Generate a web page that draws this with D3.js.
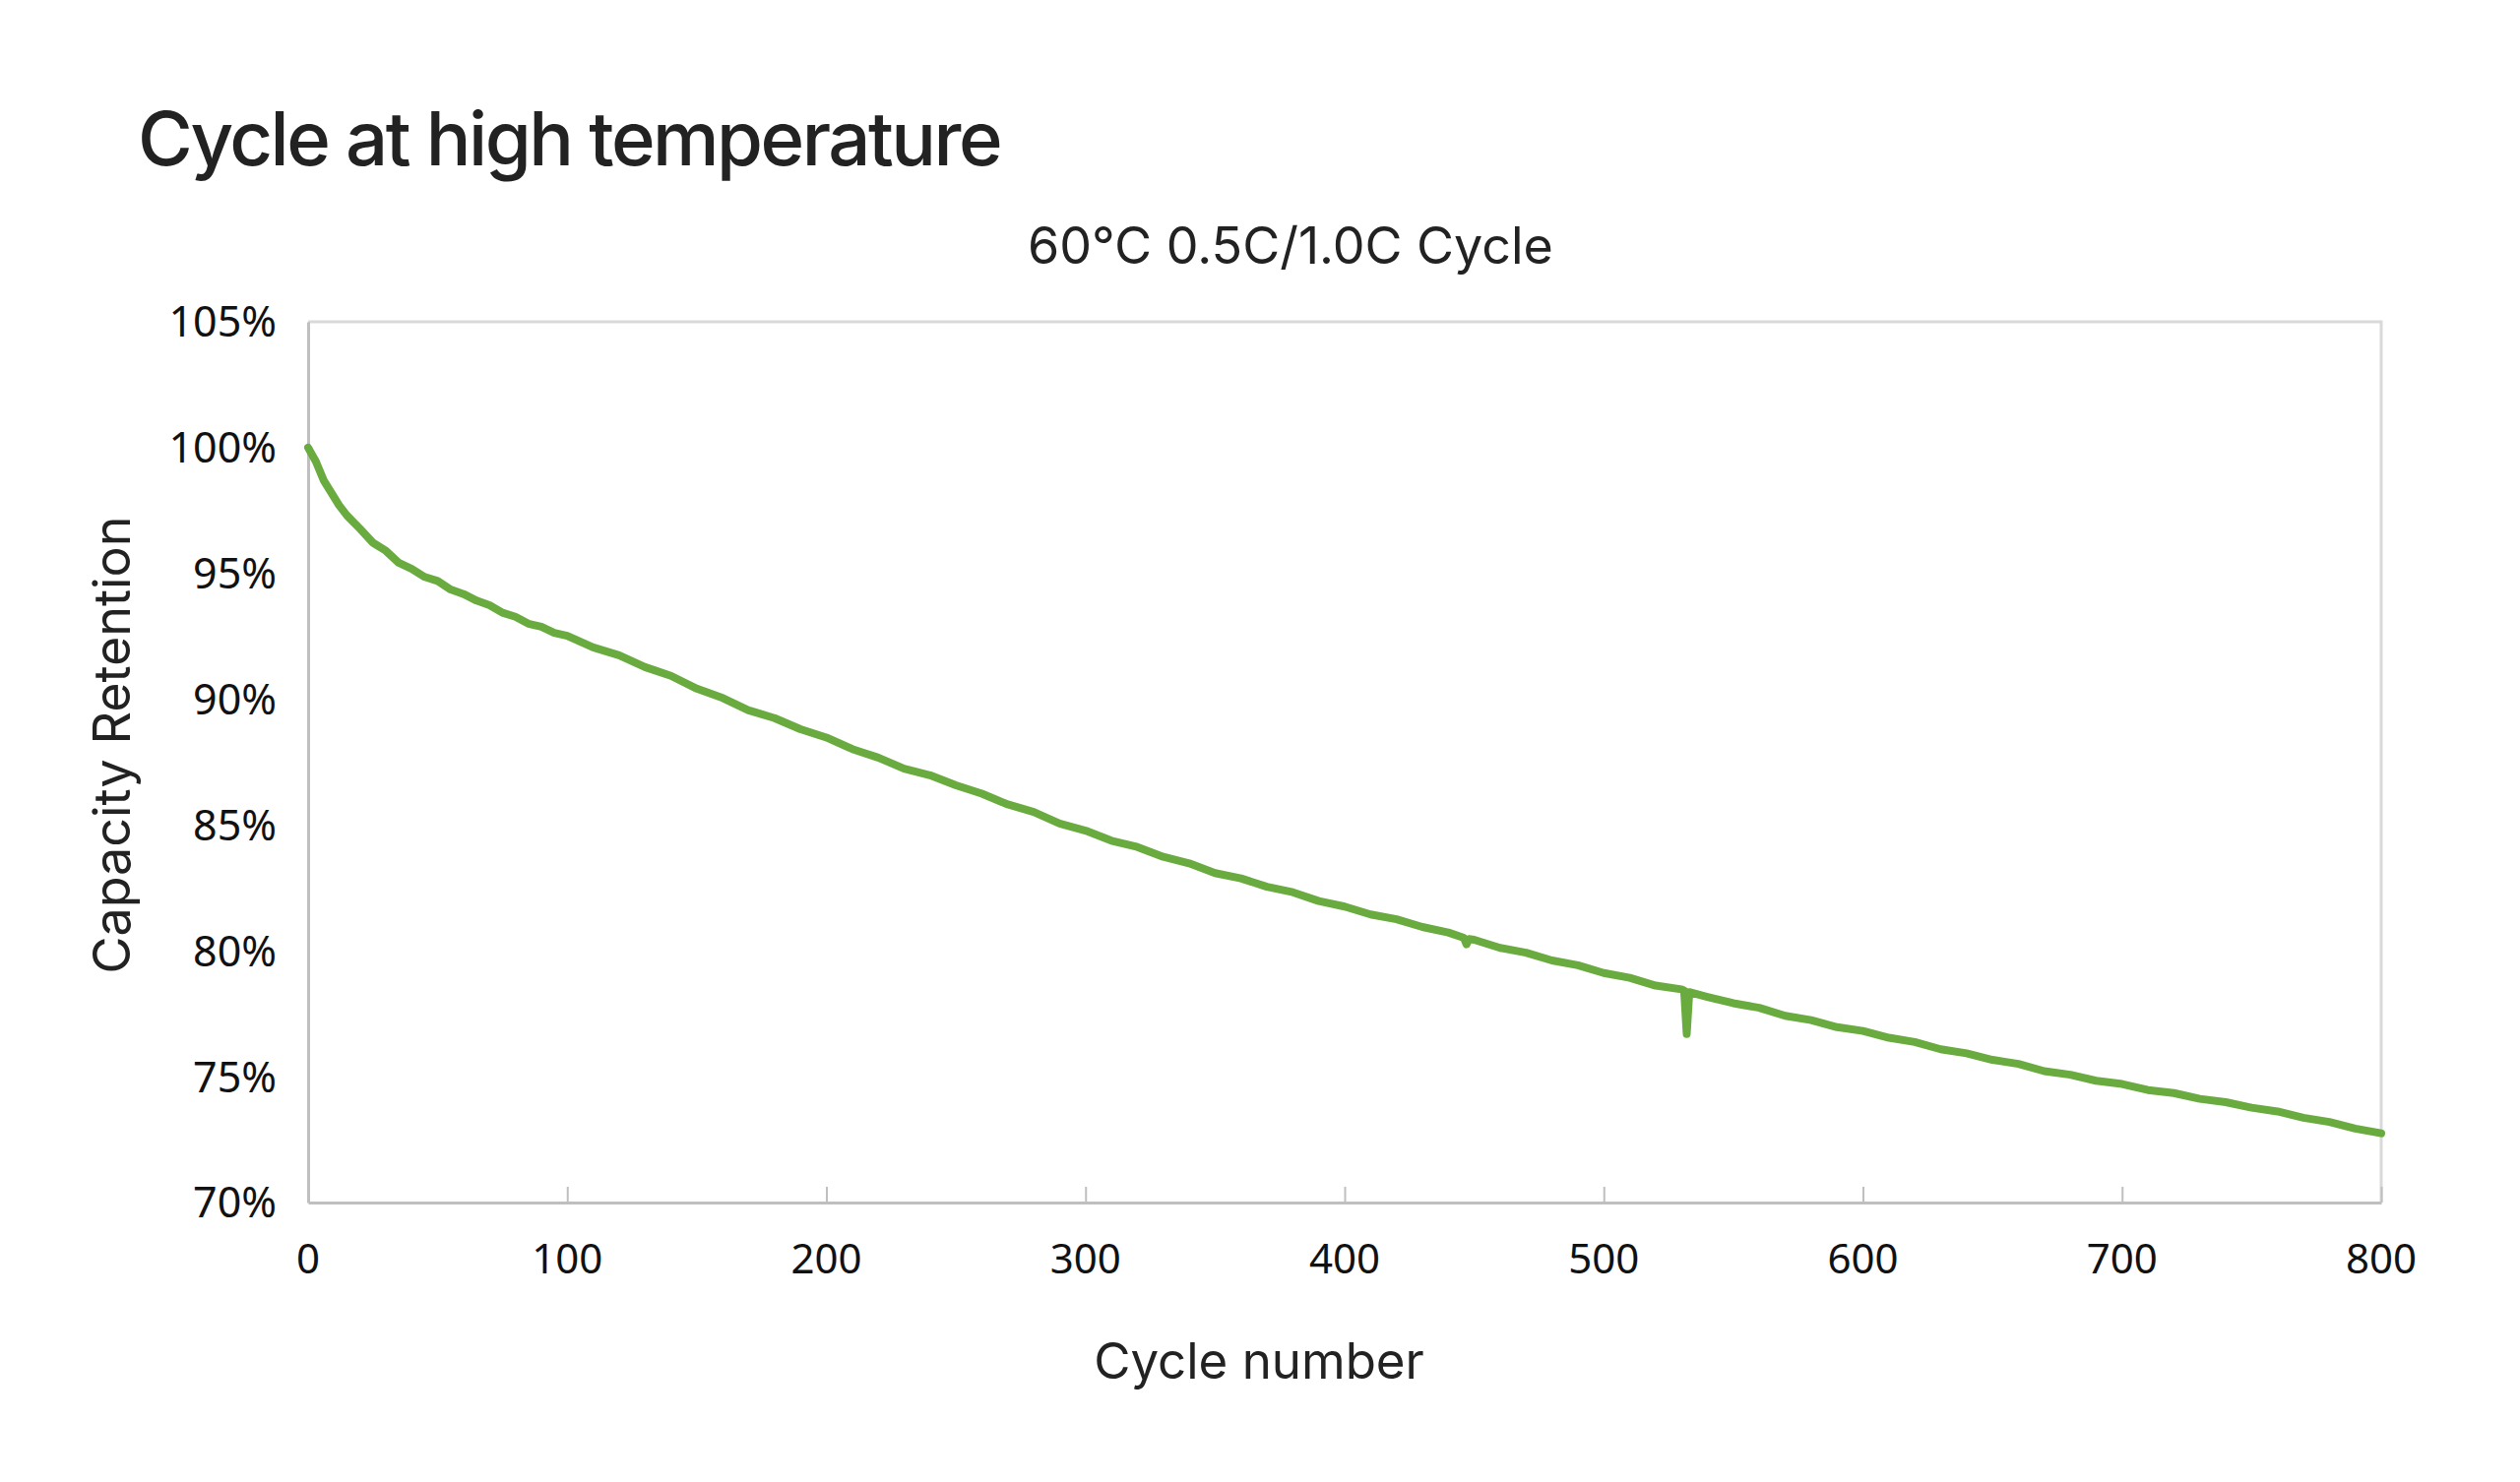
<!DOCTYPE html>
<html>

<head>

    <title>Cycle at high temperature</title>

    <script src="https://d3js.org/d3.v7.js"></script>
    <style>
        body {
            margin: 0;
            background: #ffffff;
        }

        svg text {
            fill: #222222;
        }

        .title {
            font-family: Inter, "Noto Sans", sans-serif;
            font-weight: 500;
        }

        .label {
            font-family: Inter, "Noto Sans", "Noto Sans CJK KR", sans-serif;
            font-weight: 400;
        }

        .tick-text {
            font-family: "Noto Sans", sans-serif;
            fill: #111111;
        }
    </style>
</head>

<body>
    <svg></svg>
    <script>
        // Data
        var cycles = [0, 3, 6, 9, 12, 15, 20, 25, 30, 35, 40, 45, 50, 55, 60, 65, 70, 75, 80, 85, 90, 95,
            100, 110, 120, 130, 140, 150, 160, 170, 180, 190, 200, 210, 220, 230, 240, 250, 260, 270, 280, 290,
            300, 310, 320, 330, 340, 350, 360, 370, 380, 390, 400, 410, 420, 430, 440, 446, 447, 448, 450,
            460, 470, 480, 490, 500, 510, 520, 530, 531, 532, 533, 540, 550, 560, 570, 580, 590,
            600, 610, 620, 630, 640, 650, 660, 670, 680, 690, 700, 710, 720, 730, 740, 750, 760, 770, 780, 790, 800];

        var retention = [100.00, 99.45, 98.70, 98.20, 97.70, 97.30, 96.78, 96.22, 95.90, 95.42, 95.18, 94.86, 94.70, 94.36, 94.18, 93.92, 93.74, 93.44, 93.28, 93.00, 92.88, 92.64,
            92.52, 92.06, 91.75, 91.28, 90.93, 90.42, 90.05, 89.56, 89.25, 88.81, 88.48, 88.02, 87.68, 87.24, 86.98, 86.58, 86.25, 85.82, 85.52, 85.06,
            84.78, 84.38, 84.13, 83.74, 83.48, 83.09, 82.88, 82.55, 82.33, 81.98, 81.76, 81.45, 81.26, 80.95, 80.73, 80.52, 80.26, 80.47, 80.44,
            80.12, 79.93, 79.62, 79.43, 79.12, 78.93, 78.62, 78.47, 78.42, 76.70, 78.36, 78.17, 77.92, 77.74, 77.42, 77.25, 76.97,
            76.82, 76.55, 76.38, 76.09, 75.93, 75.67, 75.51, 75.22, 75.08, 74.84, 74.71, 74.47, 74.35, 74.12, 73.99, 73.77, 73.62, 73.37, 73.20, 72.94, 72.75];

        var xTicks = [0, 100, 200, 300, 400, 500, 600, 700, 800];
        var yTicks = [70, 75, 80, 85, 90, 95, 100, 105];

        // Graph dimensions
        var width = 2560;
        var height = 1506;
        var plotLeft = 313, plotRight = 2419, plotTop = 327, plotBottom = 1222;

        var svg = d3.select("svg")
            .attr("width", width)
            .attr("height", height);

        var x = d3.scaleLinear().domain([0, 800]).range([plotLeft, plotRight]);
        var y = d3.scaleLinear().domain([70, 105]).range([plotBottom, plotTop]);

        // Frame: light top/right, darker left/bottom
        svg.append("path")
            .attr("d", "M" + plotLeft + "," + plotTop + "H" + plotRight + "V" + plotBottom)
            .attr("fill", "none")
            .attr("stroke", "#d9d9d9")
            .attr("stroke-width", 3);

        // x axis with inward ticks
        var xAxis = svg.append("g")
            .attr("transform", "translate(0," + plotBottom + ")")
            .call(d3.axisBottom(x).tickValues(xTicks).tickSizeInner(-16).tickSizeOuter(0).tickFormat(""));
        xAxis.select(".domain").attr("stroke", "#bfbfbf").attr("stroke-width", 3);
        xAxis.selectAll(".tick line").attr("stroke", "#bfbfbf").attr("stroke-width", 2);

        svg.selectAll(".xlab")
            .data(xTicks)
            .enter()
            .append("text")
            .attr("class", "tick-text")
            .attr("x", function (d) { return x(d); })
            .attr("y", 1294)
            .attr("text-anchor", "middle")
            .attr("font-size", 42)
            .text(function (d) { return d; });

        // y axis (no ticks)
        var yAxis = svg.append("g")
            .attr("transform", "translate(" + plotLeft + ",0)")
            .call(d3.axisLeft(y).tickValues(yTicks).tickSize(0).tickFormat(""));
        yAxis.select(".domain").attr("stroke", "#bfbfbf").attr("stroke-width", 3);

        svg.selectAll(".ylab")
            .data(yTicks)
            .enter()
            .append("text")
            .attr("class", "tick-text")
            .attr("x", 281)
            .attr("y", function (d) { return y(d); })
            .attr("dy", "0.36em")
            .attr("text-anchor", "end")
            .attr("font-size", 43)
            .text(function (d) { return d + "%"; });

        // Line
        var points = cycles.map(function (c, i) { return [c, retention[i]]; });
        svg.append("path")
            .datum(points)
            .attr("fill", "none")
            .attr("stroke", "#6aab40")
            .attr("stroke-width", 8)
            .attr("stroke-linejoin", "round")
            .attr("stroke-linecap", "round")
            .attr("d", d3.line()
                .x(function (d) { return x(d[0]); })
                .y(function (d) { return y(d[1]); }));

        // Titles
        svg.append("text")
            .attr("class", "title")
            .attr("x", 140)
            .attr("y", 168)
            .attr("font-size", 76)
            .attr("letter-spacing", -2.5)
            .text("Cycle at high temperature");

        svg.append("text")
            .attr("class", "label")
            .attr("x", 1311)
            .attr("y", 268)
            .attr("text-anchor", "middle")
            .attr("font-size", 52)
            .text("60\u2103 0.5C/1.0C Cycle");

        svg.append("text")
            .attr("class", "label")
            .attr("x", 1279)
            .attr("y", 1401)
            .attr("text-anchor", "middle")
            .attr("font-size", 51)
            .text("Cycle number");

        svg.append("text")
            .attr("class", "label")
            .attr("transform", "translate(132,757) rotate(-90)")
            .attr("text-anchor", "middle")
            .attr("font-size", 52)
            .text("Capacity Retention");
    </script>
</body>

</html>
